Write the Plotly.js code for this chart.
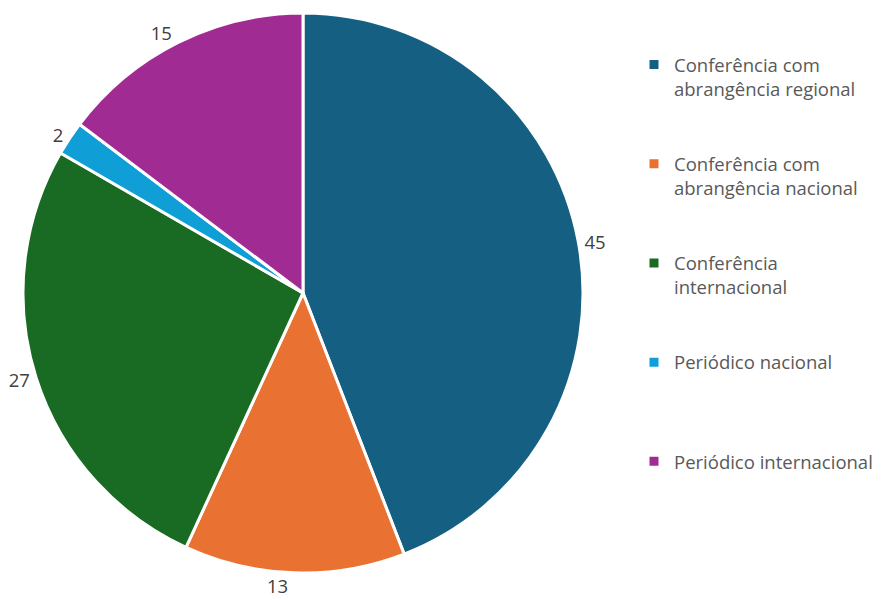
<!DOCTYPE html>
<html>
<head>
<meta charset="utf-8">
<script src="https://cdn.plot.ly/plotly-3.0.1.min.js"></script>
<style>html,body{margin:0;padding:0;background:#fff;}#chart{width:886px;height:600px;}</style>
</head>
<body>
<div id="chart"></div>
<script>
const categories = [
  "Conferência com<br>abrangência regional",
  "Conferência com<br>abrangência nacional",
  "Conferência<br>internacional",
  "Periódico nacional",
  "Periódico internacional"
];
const values = [45, 13, 27, 2, 15];
const colors = ["#156082", "#E97132", "#196B24", "#0F9ED5", "#A02B93"];

const pad = ["<br> <br> ", "<br> <br> ", "<br> <br> ", "<br> <br> <br> ", ""];
const legendLabels = categories.map((c, i) => c + pad[i]);

const W = 886, H = 600;
const data = [{
  type: "pie",
  labels: legendLabels,
  values: values,
  sort: false,
  direction: "clockwise",
  rotation: 0,
  marker: {colors: colors, line: {color: "#ffffff", width: 3}},
  textinfo: "value",
  textposition: "outside",
  outsidetextfont: {family: "'Open Sans', Lato, sans-serif", size: 18.5, color: "#404040"},
  hoverinfo: "label+value",
  domain: {x: [23 / W, 583 / W], y: [27 / H, 587 / H]}
}];

const layout = {
  width: W, height: H,
  margin: {l: 0, r: 0, t: 0, b: 0},
  paper_bgcolor: "#ffffff",
  font: {family: "'Open Sans', Lato, sans-serif", color: "#595959", size: 18.5},
  showlegend: true,
  legend: {
    x: 634 / W, y: 1 - 46 / H, xanchor: "left", yanchor: "top",
    valign: "top",
    font: {family: "'Open Sans', Lato, sans-serif", size: 18.5, color: "#595959"},
    itemwidth: 30
  }
};

Plotly.newPlot("chart", data, layout, {displayModeBar: false, staticPlot: true});
</script>
</body>
</html>
